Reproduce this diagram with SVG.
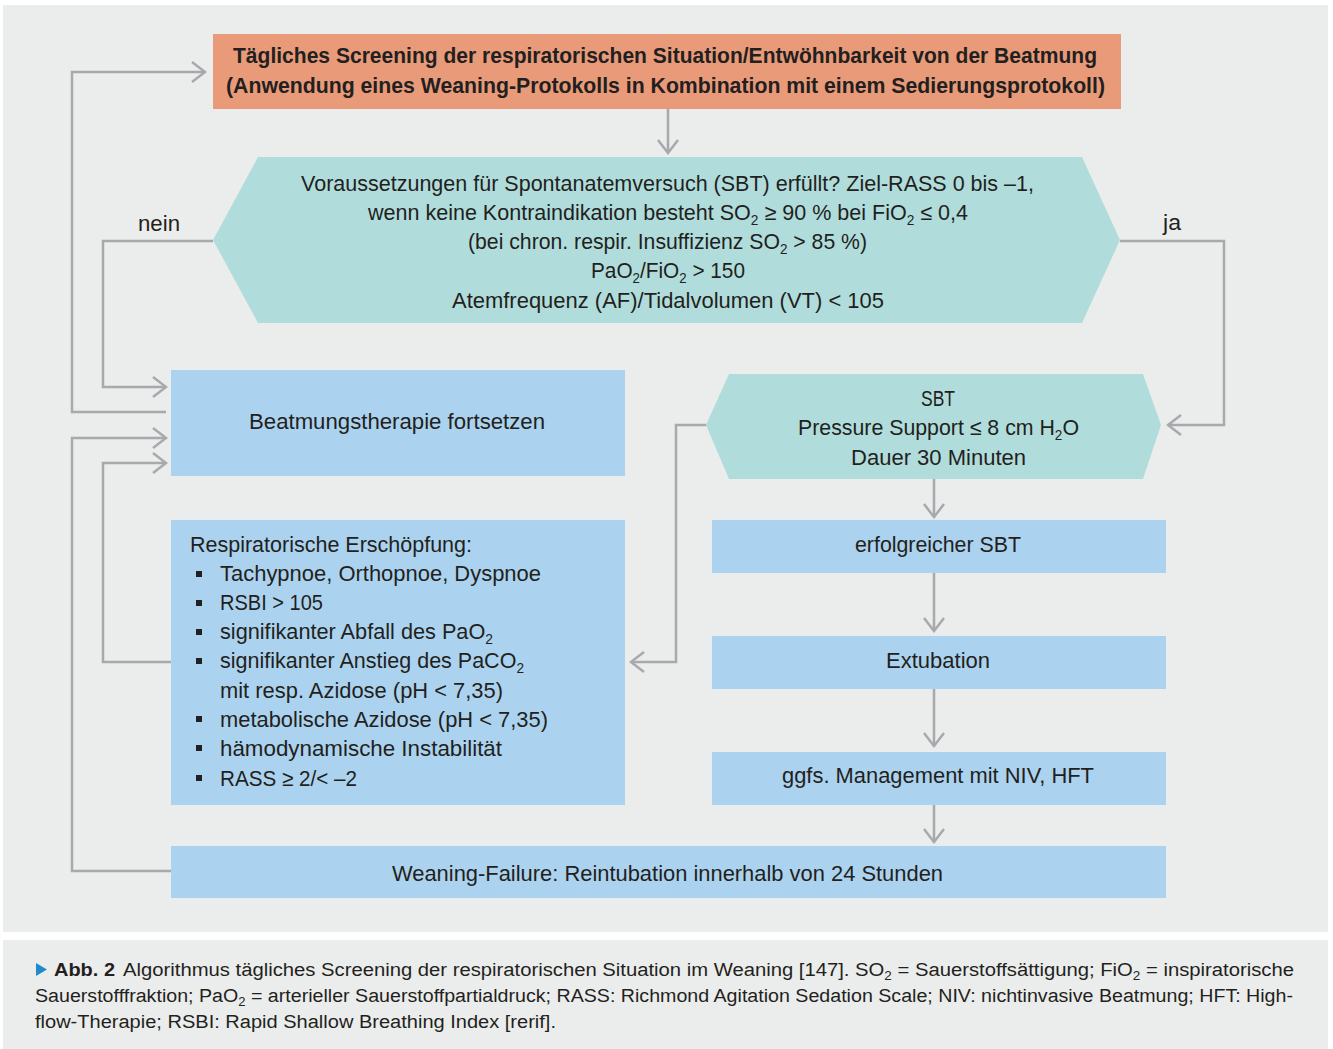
<svg xmlns="http://www.w3.org/2000/svg" width="1333" height="1049" viewBox="0 0 1333 1049">
<style>
.t{font-family:"Liberation Sans",Arial,sans-serif;font-size:22px;fill:#231f20}
.c{text-anchor:middle}
.b{font-weight:bold}
.cap{font-family:"Liberation Sans",Arial,sans-serif;font-size:18px;fill:#231f20}
.conn{fill:none;stroke:#a7a9ac;stroke-width:2.5}
.blue{fill:#abd3ef}
.teal{fill:#b0dddc}
.sub{font-size:14px}
</style>
<defs>
<marker id="ah" markerUnits="userSpaceOnUse" viewBox="0 0 16 24" refX="14" refY="12" markerWidth="16" markerHeight="24" orient="auto">
<path d="M1,2 L14,12 L1,22" fill="none" stroke="#a7a9ac" stroke-width="2.5"/>
</marker>
</defs>
<rect x="0" y="0" width="1333" height="1049" fill="#ffffff"/>
<rect x="3" y="5" width="1325" height="927" fill="#ebedec"/>
<rect x="3" y="940" width="1325" height="109" fill="#ebedec"/>

<g id="connectors">
<line class="conn" x1="668" y1="109" x2="668" y2="153" marker-end="url(#ah)"/>
<polyline class="conn" points="213,241 103,241 103,387 166,387" marker-end="url(#ah)"/>
<polyline class="conn" points="1120,241 1224,241 1224,425 1168,425" marker-end="url(#ah)"/>
<polyline class="conn" points="166,412 72,412 72,72 205,72" marker-end="url(#ah)"/>
<polyline class="conn" points="171,871 72,871 72,438 166,438" marker-end="url(#ah)"/>
<polyline class="conn" points="171,662 103,662 103,463 166,463" marker-end="url(#ah)"/>
<polyline class="conn" points="706,425 676,425 676,662 631,662" marker-end="url(#ah)"/>
<line class="conn" x1="934" y1="479" x2="934" y2="517" marker-end="url(#ah)"/>
<line class="conn" x1="934" y1="573" x2="934" y2="631" marker-end="url(#ah)"/>
<line class="conn" x1="934" y1="689" x2="934" y2="746" marker-end="url(#ah)"/>
<line class="conn" x1="934" y1="805" x2="934" y2="842" marker-end="url(#ah)"/>
<text class="t" x="138" y="231" textLength="42" lengthAdjust="spacingAndGlyphs">nein</text>
<text class="t" x="1163" y="230" textLength="18" lengthAdjust="spacingAndGlyphs">ja</text>
</g>

<g id="screening">
<rect x="213" y="34" width="908" height="75" fill="#e99b79"/>
<text class="t c b" x="665" y="63" textLength="864" lengthAdjust="spacingAndGlyphs">Tägliches Screening der respiratorischen Situation/Entwöhnbarkeit von der Beatmung</text>
<text class="t c b" x="665.5" y="93" textLength="879" lengthAdjust="spacingAndGlyphs">(Anwendung eines Weaning-Protokolls in Kombination mit einem Sedierungsprotokoll)</text>
</g>

<g id="voraussetzungen">
<polygon class="teal" points="213,240 258,157 1082,157 1120,240 1082,323 258,323"/>
<text class="t c" x="667.5" y="190.5" textLength="733" lengthAdjust="spacingAndGlyphs">Voraussetzungen für Spontanatemversuch (SBT) erfüllt? Ziel-RASS 0 bis –1,</text>
<text class="t c" x="668" y="220" textLength="600" lengthAdjust="spacingAndGlyphs">wenn keine Kontraindikation besteht SO<tspan class="sub" dy="5">2</tspan><tspan dy="-5"> ≥ 90 % bei FiO</tspan><tspan class="sub" dy="5">2</tspan><tspan dy="-5"> ≤ 0,4</tspan></text>
<text class="t c" x="667.5" y="249" textLength="399" lengthAdjust="spacingAndGlyphs">(bei chron. respir. Insuffizienz SO<tspan class="sub" dy="5">2</tspan><tspan dy="-5"> &gt; 85 %)</tspan></text>
<text class="t c" x="668" y="278" textLength="154" lengthAdjust="spacingAndGlyphs">PaO<tspan class="sub" dy="5">2</tspan><tspan dy="-5">/FiO</tspan><tspan class="sub" dy="5">2</tspan><tspan dy="-5"> &gt; 150</tspan></text>
<text class="t c" x="668" y="308" textLength="432" lengthAdjust="spacingAndGlyphs">Atemfrequenz (AF)/Tidalvolumen (VT) &lt; 105</text>
</g>

<g id="beatmung">
<rect class="blue" x="171" y="370" width="454" height="106"/>
<text class="t c" x="397" y="429" textLength="296" lengthAdjust="spacingAndGlyphs">Beatmungstherapie fortsetzen</text>
</g>

<g id="sbt">
<polygon class="teal" points="706,425 729,374 1143,374 1161,425 1143,479 729,479"/>
<text class="t c" x="938" y="406" textLength="34" lengthAdjust="spacingAndGlyphs">SBT</text>
<text class="t c" x="938.5" y="435" textLength="281" lengthAdjust="spacingAndGlyphs">Pressure Support ≤ 8 cm H<tspan class="sub" dy="5">2</tspan><tspan dy="-5">O</tspan></text>
<text class="t c" x="938.5" y="465" textLength="175" lengthAdjust="spacingAndGlyphs">Dauer 30 Minuten</text>
</g>

<g id="erschoepfung">
<rect class="blue" x="171" y="520" width="454" height="285"/>
<text class="t" x="190" y="552" textLength="282" lengthAdjust="spacingAndGlyphs">Respiratorische Erschöpfung:</text>
<g fill="#231f20">
<rect x="196" y="571" width="6" height="6"/>
<rect x="196" y="600" width="6" height="6"/>
<rect x="196" y="629" width="6" height="6"/>
<rect x="196" y="658" width="6" height="6"/>
<rect x="196" y="716" width="6" height="6"/>
<rect x="196" y="745" width="6" height="6"/>
<rect x="196" y="775" width="6" height="6"/>
</g>
<text class="t" x="220" y="581" textLength="321" lengthAdjust="spacingAndGlyphs">Tachypnoe, Orthopnoe, Dyspnoe</text>
<text class="t" x="220" y="610" textLength="103" lengthAdjust="spacingAndGlyphs">RSBI &gt; 105</text>
<text class="t" x="220" y="639" textLength="273" lengthAdjust="spacingAndGlyphs">signifikanter Abfall des PaO<tspan class="sub" dy="5">2</tspan></text>
<text class="t" x="220" y="668" textLength="304" lengthAdjust="spacingAndGlyphs">signifikanter Anstieg des PaCO<tspan class="sub" dy="5">2</tspan></text>
<text class="t" x="220" y="698" textLength="283" lengthAdjust="spacingAndGlyphs">mit resp. Azidose (pH &lt; 7,35)</text>
<text class="t" x="220" y="727" textLength="328" lengthAdjust="spacingAndGlyphs">metabolische Azidose (pH &lt; 7,35)</text>
<text class="t" x="220" y="756" textLength="282" lengthAdjust="spacingAndGlyphs">hämodynamische Instabilität</text>
<text class="t" x="220" y="786" textLength="137" lengthAdjust="spacingAndGlyphs">RASS ≥ 2/&lt; –2</text>
</g>

<g id="erfolgreich">
<rect class="blue" x="712" y="520" width="454" height="53"/>
<text class="t c" x="938" y="552" textLength="166" lengthAdjust="spacingAndGlyphs">erfolgreicher SBT</text>
</g>

<g id="extubation">
<rect class="blue" x="712" y="636" width="454" height="53"/>
<text class="t c" x="938" y="668" textLength="104" lengthAdjust="spacingAndGlyphs">Extubation</text>
</g>

<g id="management">
<rect class="blue" x="712" y="752" width="454" height="53"/>
<text class="t c" x="938" y="783" textLength="312" lengthAdjust="spacingAndGlyphs">ggfs. Management mit NIV, HFT</text>
</g>

<g id="failure">
<rect class="blue" x="171" y="846" width="995" height="52"/>
<text class="t c" x="667.5" y="881" textLength="551" lengthAdjust="spacingAndGlyphs">Weaning-Failure: Reintubation innerhalb von 24 Stunden</text>
</g>

<g id="caption">
<polygon points="36,963 47,969.5 36,976" fill="#1e8bcb"/>
<text class="cap b" x="54" y="976" textLength="61" lengthAdjust="spacingAndGlyphs">Abb. 2</text>
<text class="cap" x="123" y="976" textLength="1171" lengthAdjust="spacingAndGlyphs">Algorithmus tägliches Screening der respiratorischen Situation im Weaning [147]. SO<tspan font-size="12" dy="4">2</tspan><tspan dy="-4"> = Sauerstoffsättigung; FiO</tspan><tspan font-size="12" dy="4">2</tspan><tspan dy="-4"> = inspiratorische</tspan></text>
<text class="cap" x="35" y="1002" textLength="1258" lengthAdjust="spacingAndGlyphs">Sauerstofffraktion; PaO<tspan font-size="12" dy="4">2</tspan><tspan dy="-4"> = arterieller Sauerstoffpartialdruck; RASS: Richmond Agitation Sedation Scale; NIV: nichtinvasive Beatmung; HFT: High-</tspan></text>
<text class="cap" x="35" y="1028" textLength="521" lengthAdjust="spacingAndGlyphs">flow-Therapie; RSBI: Rapid Shallow Breathing Index [rerif].</text>
</g>
</svg>
